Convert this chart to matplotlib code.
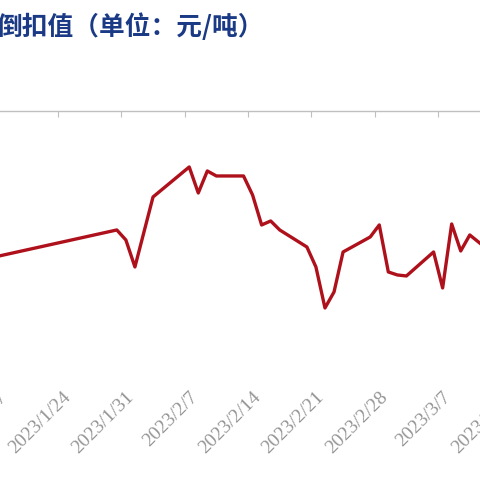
import matplotlib
matplotlib.use('Agg')
import matplotlib.pyplot as plt
import matplotlib.dates as mdates
import pandas as pd

# 倒扣值数据（元/吨）
dates = ['2023-01-17', '2023-01-30', '2023-01-31', '2023-02-01', '2023-02-03',
         '2023-02-07', '2023-02-08', '2023-02-09', '2023-02-10', '2023-02-13',
         '2023-02-14', '2023-02-15', '2023-02-16', '2023-02-17', '2023-02-20',
         '2023-02-21', '2023-02-22', '2023-02-23', '2023-02-24', '2023-02-27',
         '2023-02-28', '2023-03-01', '2023-03-02', '2023-03-03', '2023-03-06',
         '2023-03-07', '2023-03-08', '2023-03-09', '2023-03-10', '2023-03-13']
values = [-290, -238, -258, -312, -172,
          -112, -164, -120, -130, -130,
          -168, -228, -220, -238, -272,
          -312, -394, -362, -282, -252,
          -228, -322, -328, -330, -282,
          -354, -226, -280, -248, -292]
tick_dates = ['2023-01-17', '2023-01-24', '2023-01-31', '2023-02-07', '2023-02-14',
              '2023-02-21', '2023-02-28', '2023-03-07', '2023-03-14']
tick_labels = [f'{d.year}/{d.month}/{d.day}' for d in pd.to_datetime(tick_dates)]

fig = plt.figure(figsize=(4.8, 4.8), dpi=100)
ax = fig.add_axes([0, 0.198, 1, 0.5708])

x = mdates.date2num(pd.to_datetime(dates)) + 0.5
ax.plot(x, values, color='#AE111B', lw=2.4)

tx = mdates.date2num(pd.to_datetime(tick_dates))
ax.set_xticks(tx)
ax.set_yticks([])

# 设完刻度再定范围，不然会被刻度撑开
t0 = mdates.date2num(pd.Timestamp('2023-01-24'))
ax.set_xlim(t0 - 58 / 9.05, t0 + 422 / 9.05)
ax.set_ylim(-548, 0)

for s in ['left', 'right', 'bottom']:
    ax.spines[s].set_visible(False)
ax.spines['top'].set_color('#BFBFBF')
ax.spines['top'].set_linewidth(1)
ax.tick_params(axis='x', top=True, bottom=False, labeltop=False, labelbottom=False,
               direction='in', length=4.5, color='#BFBFBF')

for t, lab in zip(tx, tick_labels):
    ax.annotate(lab, xy=(t, 0), xycoords=('data', 'axes fraction'),
                xytext=(10, -10), textcoords='offset pixels',
                rotation=45, rotation_mode='anchor', ha='right', va='center',
                fontsize=14, color='#959595', family='Liberation Serif',
                annotation_clip=False)

fig.text(-3 / 480, 1 - 27 / 480, '倒扣值（单位：元/吨）', fontsize=18.5, weight='bold',
         color='#1A3A85', va='center', ha='left',
         family=['Noto Sans CJK SC', 'DejaVu Sans'])

fig.savefig('out.png', dpi=100, facecolor='white')
